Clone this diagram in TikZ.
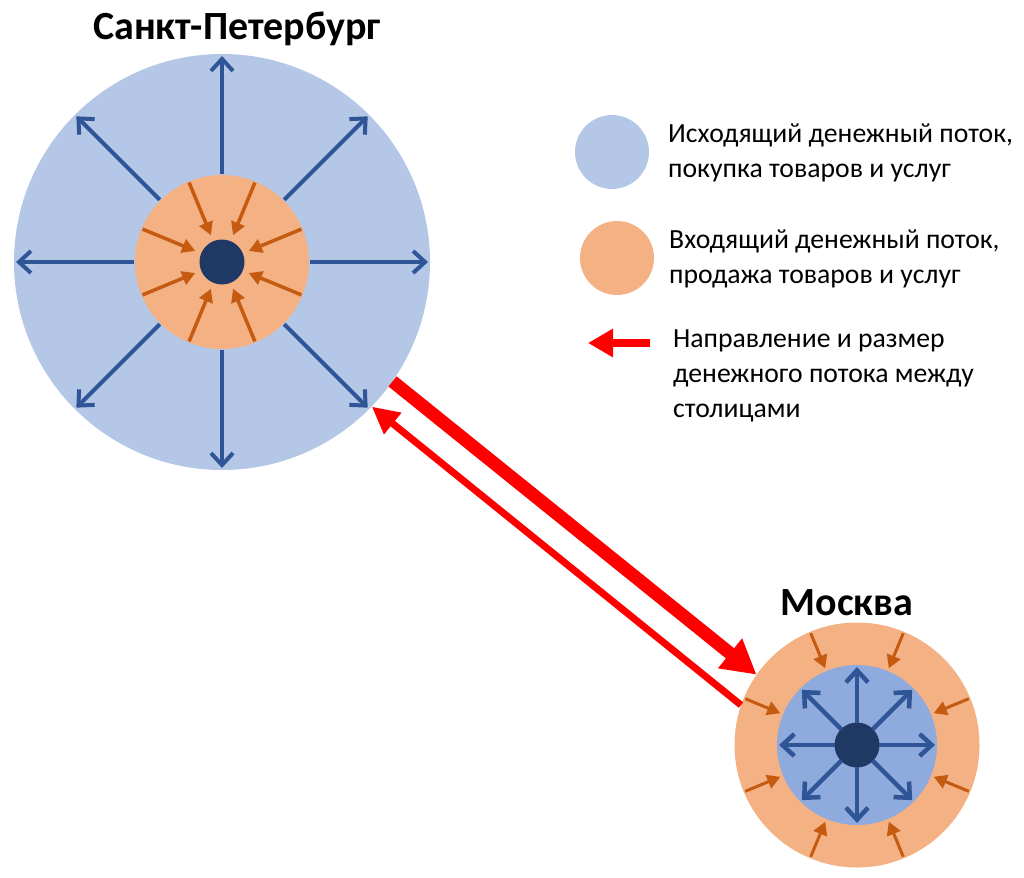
\documentclass[tikz,border=0pt]{standalone}
\usepackage{fontspec}
\setmainfont{Carlito}
\usetikzlibrary{arrows.meta, calc}
\definecolor{outblue}{HTML}{B4C7E7}
\definecolor{outbluedark}{HTML}{8FAADC}
\definecolor{inorange}{HTML}{F4B183}
\definecolor{corenavy}{HTML}{203864}
\definecolor{arrowblue}{HTML}{2F5597}
\definecolor{arrowbrown}{HTML}{C55A11}

\begin{document}
\begin{tikzpicture}[x=1pt, y=1pt,
	disc/.style={circle, inner sep=0pt, draw=none},
	outarrow/.style={draw=arrowblue, line width=4pt, -{Straight Barb[length=12pt, width=22pt]}},
	inarrow/.style={draw=arrowbrown, line width=3.5pt, -{Triangle[length=13pt, width=14pt]}},
	cityname/.style={anchor=base, font=\bfseries\fontsize{40}{48}\selectfont},
	legendtext/.style={anchor=base west, align=left, inner sep=0pt, font=\fontsize{27.7}{35}\selectfont}]
	\useasboundingbox (0, 0) rectangle (1024, -877);

	% Sankt-Peterburg
	\node[disc, fill=outblue, minimum size=416pt] (spb) at (222, -262) {};
	\node[disc, fill=inorange, minimum size=174pt] (spbin) at (spb) {};
	\node[disc, fill=corenavy, minimum size=45pt] (spbcore) at (spb) {};
	\foreach \a in {0, 45, ..., 315}
		\draw[outarrow] ($(spb)+(\a:88)$) -- ($(spb)+(\a:206)$);
	\foreach \a in {22.5, 67.5, ..., 337.5}
		\draw[inarrow] ($(spb)+(\a:86)$) -- ($(spb)+(\a:29)$);
	\node[cityname] (spbname) at (237, -40) {Санкт-Петербург};

	% Moskva
	\node[disc, fill=inorange, minimum size=245pt] (msk) at (857, -745) {};
	\node[disc, fill=outbluedark, minimum size=160pt] (mskin) at (msk) {};
	\node[disc, fill=corenavy, minimum size=45pt] (mskcore) at (msk) {};
	\foreach \a in {0, 45, ..., 315}
		\draw[outarrow, line width=4.5pt] ($(msk)+(\a:22)$) -- ($(msk)+(\a:78)$);
	\foreach \a in {22.5, 67.5, ..., 337.5}
		\draw[inarrow, line width=3pt] ($(msk)+(\a:121)$) -- ($(msk)+(\a:83)$);
	\node[cityname] (mskname) at (847, -615) {Москва};

	% potoki mezhdu stolicami
	\draw[red, line width=13pt, -{Triangle[length=34pt, width=36pt]}] (spb.-35.4) -- (msk.145);
	\draw[red, line width=7pt, -{Triangle[length=27pt, width=26pt]}] (msk.161) -- (spb.-44.6);

	% legenda
	\node[disc, fill=outblue, minimum size=74pt] (keyout) at (612, -152) {};
	\node[disc, fill=inorange, minimum size=74pt] (keyin) at (617, -258) {};
	\coordinate (keytail) at (650, -343);
	\coordinate (keyhead) at (588, -343);
	\draw[red, line width=8pt, -{Triangle[length=25pt, width=27pt]}] (keytail) -- (keyhead);
	\node[legendtext] (keyouttext) at (668, -178) {Исходящий денежный поток,\\покупка товаров и услуг};
	\node[legendtext] (keyintext) at (669, -283) {Входящий денежный поток,\\продажа товаров и услуг};
	\node[legendtext] (keyflowtext) at (673, -417) {Направление и размер\\денежного потока между\\столицами};
\end{tikzpicture}
\end{document}
